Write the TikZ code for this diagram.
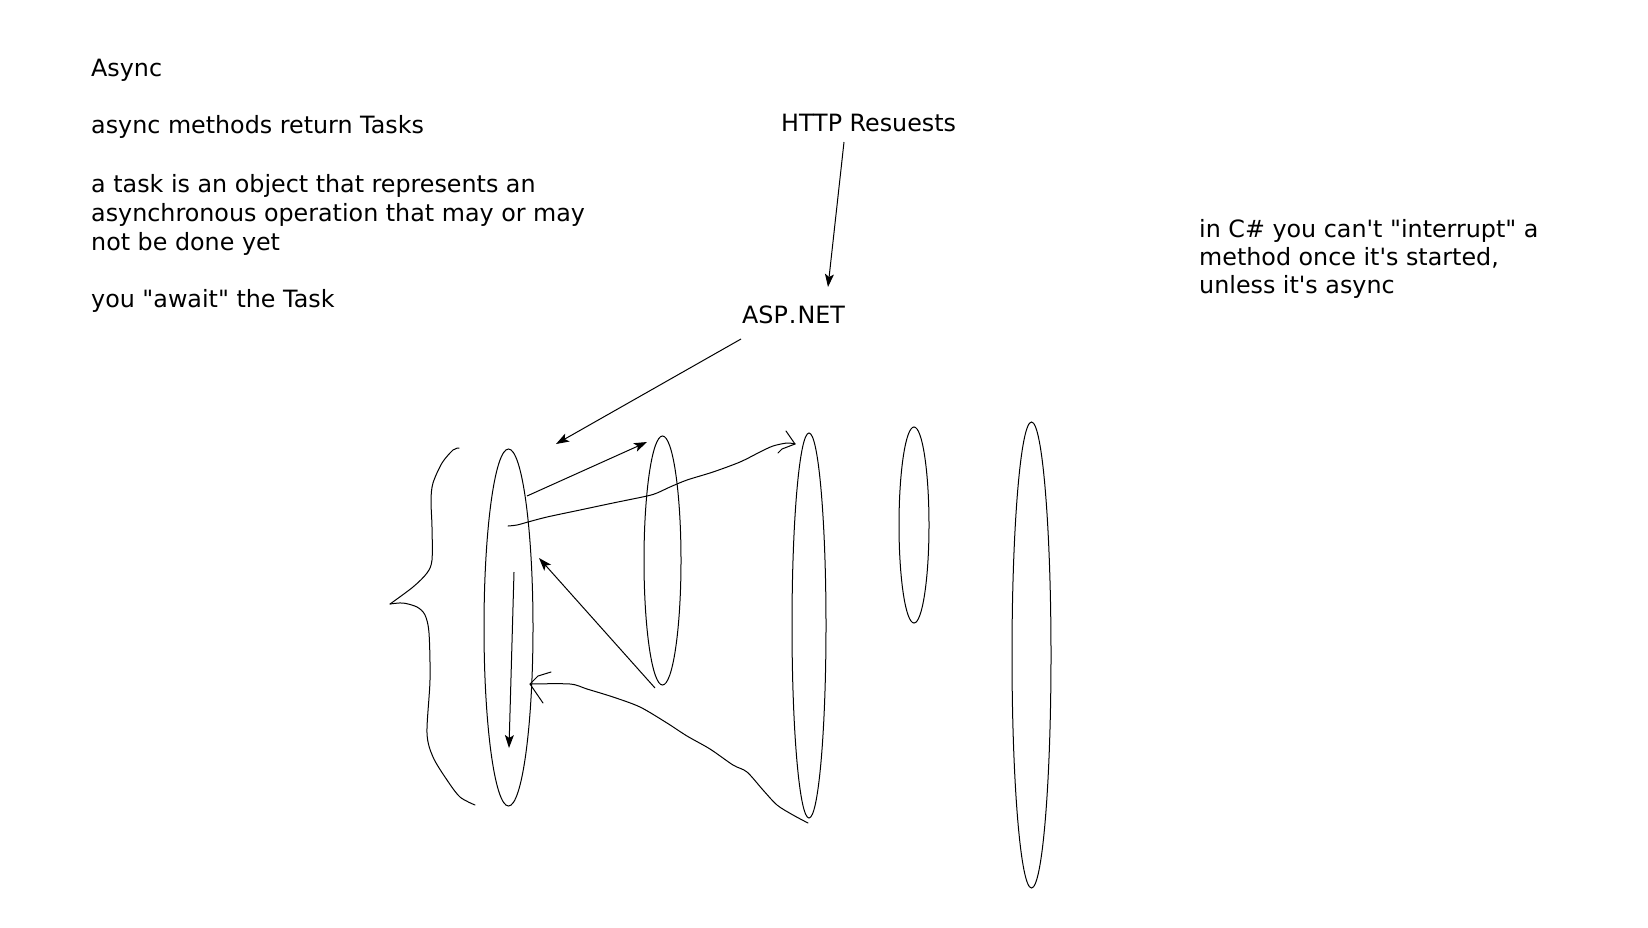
\documentclass[tikz,border=0pt]{standalone}
\usepackage{fontspec}
\newfontfamily\txtfont{DejaVu Sans}
\usetikzlibrary{shapes.geometric,arrows.meta}
\begin{document}
\begin{tikzpicture}[x=1pt,y=-1pt,
  txt/.style={anchor=base west, inner sep=0pt, font=\txtfont\fontsize{23.8}{29}\selectfont},
  oval/.style={draw, ellipse, inner sep=0pt, line width=1pt},
  arr/.style={line width=1pt, -{Stealth[length=13pt,width=9pt,inset=3pt]}},
  hand/.style={line width=1pt, line cap=round, line join=round}]
\useasboundingbox[fill=white] (0,0) rectangle (1648,927);

% left notes
\node[txt] (t1) at (91,76) {Async};
\node[txt] (t2) at (91,133) {async methods return Tasks};
\node[txt] (t3) at (91,192) {a task is an object that represents an};
\node[txt] (t4) at (91,221) {asynchronous operation that may or may};
\node[txt] (t5) at (91,250) {not be done yet};
\node[txt] (t6) at (91,307) {you "await" the Task};

% right notes
\node[txt] (r1) at (1199,237) {in C\# you can't "interrupt" a};
\node[txt] (r2) at (1199,265) {method once it's started,};
\node[txt] (r3) at (1199,293) {unless it's async};

% labels
\node[txt] (http) at (781,131) {HTTP Resuests};
\node[txt] (asp) at (742,323) {ASP\kern1pt.\kern1pt NET};

% ellipses
\node[oval, minimum width=49pt, minimum height=357pt] (e1) at (508.5,627.5) {};
\node[oval, minimum width=37pt, minimum height=249pt] (e2) at (662.5,560.5) {};
\node[oval, minimum width=34pt, minimum height=385pt] (e3) at (809,625.5) {};
\node[oval, minimum width=30pt, minimum height=196pt] (e4) at (914,525) {};
\node[oval, minimum width=39pt, minimum height=466pt] (e5) at (1031.5,655) {};

% connector end points
\coordinate (httpS) at (844,142);
\coordinate (aspT) at (828,287);
\coordinate (aspS) at (741,339);
\coordinate (e1T) at (556,444);
\coordinate (e1S) at (527,496);
\coordinate (e2T) at (647,442);
\coordinate (dS) at (514,572);
\coordinate (dT) at (509,748);
\coordinate (e2S) at (655,688);
\coordinate (e1B) at (539,558);

\draw[arr] (httpS) -- (aspT);
\draw[arr] (aspS) -- (e1T);
\draw[arr] (e1S) -- (e2T);
\draw[arr] (dS) -- (dT);
\draw[arr] (e2S) -- (e1B);

% wavy line from e1 to e3 with open head
\coordinate (wS) at (508,526);
\coordinate (wT) at (795,444);
\draw[hand] plot[smooth, tension=0.5] coordinates {(wS) (517,525) (528,522) (547,517) (580,510) (613,503) (647,496) (657,493) (670,487) (687,480) (713,472) (740,462) (760,452) (773,446) (787,443) (wT)};
\draw[hand] (786,431) -- (wT);
\draw[hand] (778,453) -- (782,449) -- (wT);

% curve from bottom of e3 back to e1 with open head
\coordinate (cS) at (808,823);
\coordinate (cT) at (530,684);
\draw[hand] plot[smooth, tension=0.5] coordinates {(cS) (793,815) (777,805) (763,790) (747,772) (733,765) (710,749) (687,736) (667,723) (640,707) (613,697) (587,689) (570,684) (cT)};
\draw[hand] (551,672) -- (538,676) -- (cT) -- (543,703);

% brace
\draw[hand] plot[smooth, tension=0.5] coordinates {(459,448) (453,450) (442,463) (433,483) (431,500) (432,527) (432,560) (427,573) (413,587) (390,604)};
\draw[hand] plot[smooth, tension=0.5] coordinates {(390,604) (403,603) (417,607) (425,615) (429,633) (430,680) (427,733) (433,757) (447,780) (460,797) (475,805)};
\end{tikzpicture}
\end{document}
